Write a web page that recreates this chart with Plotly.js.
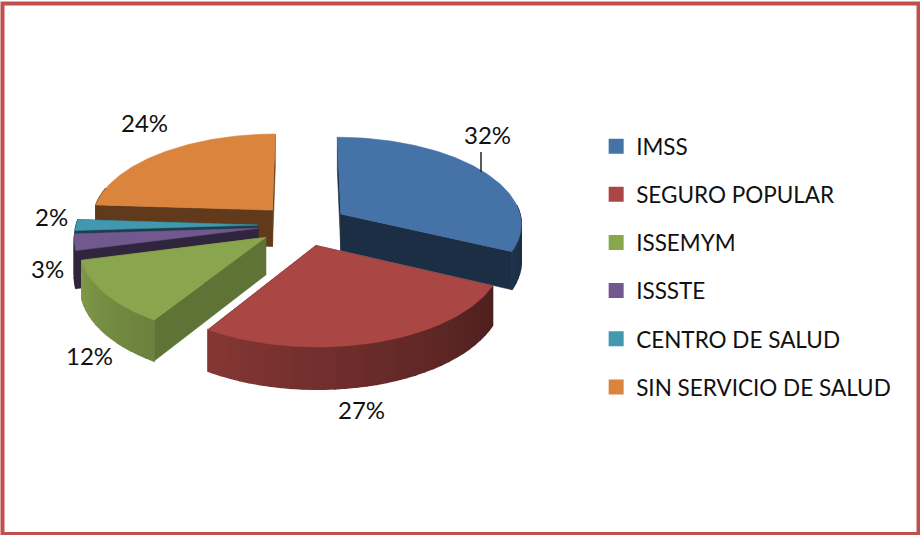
<!DOCTYPE html>
<html>
<head>
<meta charset="utf-8">
<script src="https://cdn.plot.ly/plotly-3.0.1.min.js"></script>
<style>html,body{margin:0;padding:0;background:#fff}#chart{width:920px;height:535px}</style>
</head>
<body>
<div id="chart"></div>
<script>
const categories = ["IMSS","SEGURO POPULAR","ISSEMYM","ISSSTE","CENTRO DE SALUD","SIN SERVICIO DE SALUD"];
const values = [32,27,12,3,2,24];
const colors = ["#4572A7","#AA4643","#89A54E","#71588F","#4198AF","#DB843D"];
const wallShade = [0.40,0.40,0.70,0.42,0.42,0.44];
const labelX = [487,361,89,47,51,144];
const labelY = [134,409,355,268,216,122];

// projection of the tilted pie
const cx=303, cy=225, rx=181.5, ry=86.7, persp=0.102, explodeX=0.25, explodeZ=0.24, depth=37;
const total = values.reduce((a,b)=>a+b,0);
function project(xw,zw,down){
  const p = 1/(1+persp*zw);
  return [cx+rx*xw*p, cy-ry*zw*p+(down?depth*p:0)];
}
function shade(hex,m){
  const n=parseInt(hex.slice(1),16);
  const c=[n>>16,(n>>8)&255,n&255].map(v=>Math.round(v*m));
  return `rgb(${c[0]},${c[1]},${c[2]})`;
}
function poly(pts,color,lw){
  return {type:'scatter',mode:'lines',x:pts.map(p=>p[0]),y:pts.map(p=>p[1]),fill:'toself',fillcolor:color,
    line:{color:color,width:lw||0.6},hoverinfo:'skip',showlegend:false};
}
const sliceTraces=[];
let acc=0;
const slices=values.map((v,i)=>{const a0=acc/total*360; acc+=v; return {i,a0,a1:acc/total*360};});
[5,4,3,2,0,1].forEach(idx=>{
  const s=slices[idx], col=colors[idx];
  const mid=(s.a0+s.a1)/2*Math.PI/180;
  const ox=explodeX*Math.sin(mid), oz=explodeZ*Math.cos(mid);
  const at=(deg,down)=>{const t=deg*Math.PI/180; return project(ox+Math.sin(t),oz+Math.cos(t),down);};
  const apex=down=>project(ox,oz,down);
  // the two cut walls
  const w=shade(col,wallShade[idx]);
  [s.a0,s.a1].forEach(a=>{
    sliceTraces.push(poly([apex(false),at(a,false),at(a,true),apex(true),apex(false)],w));
  });
  // outer rim, in narrow shaded strips
  const step=3;
  for(let a=s.a0;a<s.a1-1e-6;a+=step){
    const b=Math.min(a+step,s.a1);
    if(b<85||a>285) continue;
    const lit=Math.max(0.38,Math.min(0.95,0.45+((a+b)/2-115)*0.0034));
    const m=s.a0>250?wallShade[idx]:lit;
    sliceTraces.push(poly([at(a,false),at(b,false),at(b,true),at(a,true),at(a,false)],shade(col,m),1.4));
  }
  // top face
  const top=[apex(false)];
  for(let a=s.a0;a<s.a1;a+=1) top.push(at(a,false));
  top.push(at(s.a1,false)); top.push(apex(false));
  sliceTraces.push(poly(top,col));
});
// legend entries
const legendTraces=categories.map((c,i)=>({type:'scatter',mode:'markers',x:[null],y:[null],name:c,legendgroup:c,
  marker:{symbol:'square',size:15,color:colors[i]},hoverinfo:'skip'}));

const annotations=values.map((v,i)=>({x:labelX[i],y:labelY[i],xref:'x',yref:'y',text:v+'%',showarrow:false,
  font:{family:'Lato, "Open Sans", sans-serif',size:24,color:'#111'}}));

const layout={
  width:920,height:535,margin:{l:0,r:0,t:0,b:0},paper_bgcolor:'#fff',plot_bgcolor:'#fff',
  xaxis:{range:[0,920],visible:false,fixedrange:true},
  yaxis:{range:[535,0],visible:false,fixedrange:true},
  showlegend:true,
  legend:{x:0.648,xanchor:'left',y:1-125/535,yanchor:'top',traceorder:'grouped',tracegroupgap:15.9,
    font:{family:'Lato, "Open Sans", sans-serif',size:22.5,color:'#111'},bgcolor:'rgba(0,0,0,0)',borderwidth:0},
  annotations,
  shapes:[
    {type:'rect',xref:'x',yref:'y',x0:2.5,y0:3.5,x1:918.5,y1:534,line:{color:'#C0504D',width:4},fillcolor:'rgba(0,0,0,0)'},
    {type:'line',xref:'x',yref:'y',x0:481,y0:152,x1:481,y1:172,line:{color:'#222',width:1.5}}
  ]
};
Plotly.newPlot('chart',sliceTraces.concat(legendTraces),layout,{displayModeBar:false,staticPlot:true});
</script>
</body>
</html>
